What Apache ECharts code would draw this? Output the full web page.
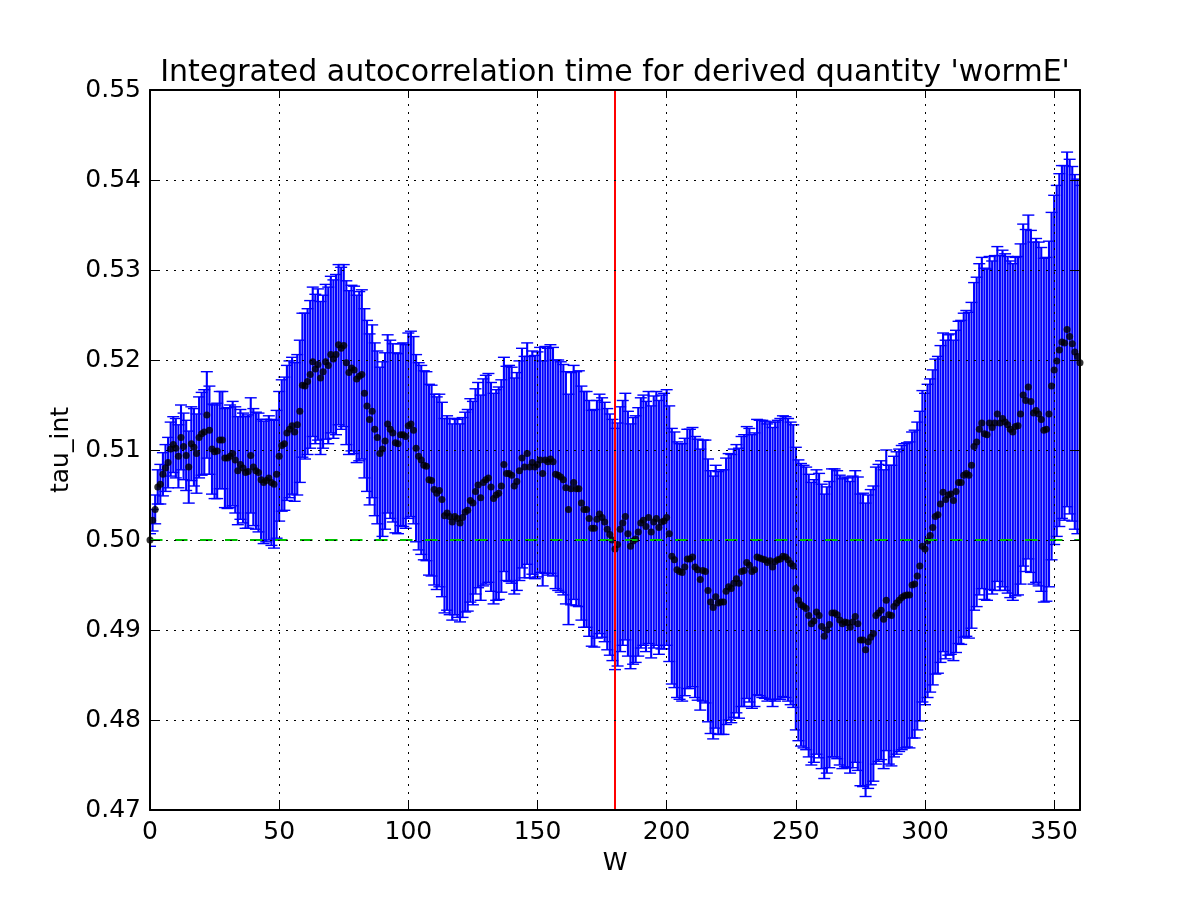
<!DOCTYPE html>
<html>
<head>
<meta charset="utf-8">
<script src="https://cdn.jsdelivr.net/npm/echarts@6/dist/echarts.min.js"></script>
<style>
  html, body { margin: 0; padding: 0; background: #fff; }
  #chart { width: 1200px; height: 900px; }
</style>
</head>
<body>
<div id="chart"></div>
<script>
// integrated autocorrelation time of 'wormE', one point per window W = 0..360
const tauInt = [
  0.5000, 0.5022, 0.5034, 0.5059, 0.5062, 0.5073, 0.5080, 0.5086, 0.5101, 0.5106,
  0.5102, 0.5093, 0.5114, 0.5104, 0.5094, 0.5081, 0.5107, 0.5103, 0.5096, 0.5114,
  0.5118, 0.5120, 0.5139, 0.5122, 0.5101, 0.5098, 0.5099, 0.5111, 0.5111, 0.5091,
  0.5091, 0.5093, 0.5096, 0.5089, 0.5077, 0.5084, 0.5080, 0.5075, 0.5076, 0.5094,
  0.5081, 0.5077, 0.5075, 0.5067, 0.5064, 0.5066, 0.5069, 0.5064, 0.5062, 0.5073,
  0.5093, 0.5105, 0.5107, 0.5119, 0.5123, 0.5127, 0.5120, 0.5128, 0.5143, 0.5172,
  0.5171, 0.5176, 0.5184, 0.5198, 0.5190, 0.5195, 0.5180, 0.5187, 0.5198, 0.5194,
  0.5206, 0.5201, 0.5206, 0.5217, 0.5213, 0.5216, 0.5197, 0.5186, 0.5191, 0.5189,
  0.5179, 0.5182, 0.5184, 0.5163, 0.5149, 0.5134, 0.5143, 0.5123, 0.5114, 0.5096,
  0.5101, 0.5110, 0.5129, 0.5123, 0.5119, 0.5108, 0.5107, 0.5117, 0.5117, 0.5115,
  0.5127, 0.5129, 0.5122, 0.5102, 0.5093, 0.5089, 0.5083, 0.5082, 0.5067, 0.5066,
  0.5056, 0.5052, 0.5055, 0.5045, 0.5027, 0.5030, 0.5026, 0.5020, 0.5026, 0.5024,
  0.5019, 0.5025, 0.5031, 0.5033, 0.5044, 0.5041, 0.5054, 0.5061, 0.5047, 0.5064,
  0.5067, 0.5069, 0.5059, 0.5046, 0.5050, 0.5052, 0.5060, 0.5084, 0.5074, 0.5074,
  0.5072, 0.5060, 0.5065, 0.5077, 0.5091, 0.5081, 0.5096, 0.5081, 0.5086, 0.5081,
  0.5084, 0.5089, 0.5074, 0.5089, 0.5087, 0.5090, 0.5087, 0.5073, 0.5072, 0.5070,
  0.5067, 0.5058, 0.5034, 0.5057, 0.5064, 0.5057, 0.5057, 0.5041, 0.5034, 0.5034,
  0.5024, 0.5013, 0.5013, 0.5023, 0.5029, 0.5025, 0.5020, 0.5012, 0.5006, 0.5000,
  0.4990, 0.4995, 0.5012, 0.5019, 0.5026, 0.5007, 0.4993, 0.4999, 0.5001, 0.5009,
  0.5019, 0.5022, 0.5015, 0.5025, 0.5009, 0.5020, 0.5024, 0.5014, 0.5020, 0.5021,
  0.5025, 0.5007, 0.4982, 0.4978, 0.4967, 0.4965, 0.4964, 0.4970, 0.4979, 0.4979,
  0.4981, 0.4970, 0.4967, 0.4956, 0.4966, 0.4965, 0.4944, 0.4931, 0.4925, 0.4937,
  0.4930, 0.4931, 0.4931, 0.4943, 0.4948, 0.4946, 0.4952, 0.4957, 0.4952, 0.4965,
  0.4966, 0.4975, 0.4972, 0.4965, 0.4967, 0.4981, 0.4980, 0.4979, 0.4978, 0.4975,
  0.4977, 0.4970, 0.4976, 0.4978, 0.4979, 0.4982, 0.4981, 0.4978, 0.4974, 0.4971,
  0.4946, 0.4933, 0.4928, 0.4926, 0.4924, 0.4916, 0.4907, 0.4910, 0.4920, 0.4916,
  0.4904, 0.4893, 0.4900, 0.4906, 0.4919, 0.4919, 0.4917, 0.4911, 0.4907, 0.4909,
  0.4908, 0.4903, 0.4909, 0.4915, 0.4907, 0.4889, 0.4889, 0.4878, 0.4887, 0.4892,
  0.4896, 0.4916, 0.4919, 0.4922, 0.4912, 0.4933, 0.4917, 0.4916, 0.4926, 0.4930,
  0.4933, 0.4936, 0.4938, 0.4939, 0.4939, 0.4950, 0.4951, 0.4960, 0.4971, 0.4993,
  0.4990, 0.4999, 0.5005, 0.5014, 0.5026, 0.5028, 0.5040, 0.5053, 0.5045, 0.5050,
  0.5051, 0.5044, 0.5054, 0.5064, 0.5064, 0.5072, 0.5074, 0.5072, 0.5083, 0.5104,
  0.5109, 0.5123, 0.5130, 0.5118, 0.5117, 0.5130, 0.5125, 0.5130, 0.5140, 0.5130,
  0.5135, 0.5131, 0.5128, 0.5123, 0.5120, 0.5126, 0.5127, 0.5140, 0.5161, 0.5155,
  0.5170, 0.5154, 0.5141, 0.5144, 0.5140, 0.5134, 0.5122, 0.5123, 0.5140, 0.5171,
  0.5189, 0.5199, 0.5211, 0.5220, 0.5219, 0.5234, 0.5226, 0.5218, 0.5209, 0.5204,
  0.5197
];

// half-length of each error bar
const tauErr = [
  0.0007, 0.0012, 0.0016, 0.0019, 0.0022, 0.0024, 0.0026, 0.0028, 0.0030, 0.0031,
  0.0033, 0.0035, 0.0036, 0.0037, 0.0039, 0.0040, 0.0041, 0.0043, 0.0044, 0.0045,
  0.0046, 0.0047, 0.0048, 0.0049, 0.0050, 0.0052, 0.0053, 0.0054, 0.0054, 0.0055,
  0.0056, 0.0057, 0.0058, 0.0059, 0.0060, 0.0061, 0.0061, 0.0062, 0.0063, 0.0064,
  0.0065, 0.0065, 0.0066, 0.0067, 0.0068, 0.0068, 0.0069, 0.0070, 0.0071, 0.0071,
  0.0072, 0.0073, 0.0074, 0.0075, 0.0076, 0.0076, 0.0077, 0.0078, 0.0079, 0.0080,
  0.0081, 0.0081, 0.0082, 0.0083, 0.0083, 0.0084, 0.0085, 0.0085, 0.0086, 0.0087,
  0.0087, 0.0088, 0.0089, 0.0089, 0.0090, 0.0090, 0.0091, 0.0091, 0.0092, 0.0093,
  0.0093, 0.0094, 0.0094, 0.0094, 0.0095, 0.0095, 0.0096, 0.0096, 0.0096, 0.0096,
  0.0097, 0.0098, 0.0099, 0.0099, 0.0099, 0.0100, 0.0100, 0.0101, 0.0102, 0.0102,
  0.0103, 0.0103, 0.0104, 0.0104, 0.0104, 0.0105, 0.0105, 0.0105, 0.0106, 0.0106,
  0.0106, 0.0107, 0.0107, 0.0108, 0.0108, 0.0108, 0.0109, 0.0109, 0.0109, 0.0110,
  0.0110, 0.0111, 0.0111, 0.0112, 0.0113, 0.0113, 0.0114, 0.0114, 0.0114, 0.0115,
  0.0116, 0.0116, 0.0116, 0.0117, 0.0117, 0.0118, 0.0118, 0.0119, 0.0119, 0.0120,
  0.0120, 0.0120, 0.0121, 0.0122, 0.0122, 0.0123, 0.0123, 0.0123, 0.0124, 0.0124,
  0.0125, 0.0125, 0.0125, 0.0126, 0.0126, 0.0127, 0.0127, 0.0127, 0.0128, 0.0128,
  0.0128, 0.0129, 0.0128, 0.0129, 0.0130, 0.0130, 0.0131, 0.0130, 0.0131, 0.0131,
  0.0131, 0.0131, 0.0132, 0.0132, 0.0133, 0.0133, 0.0133, 0.0134, 0.0134, 0.0134,
  0.0134, 0.0135, 0.0136, 0.0136, 0.0137, 0.0136, 0.0136, 0.0137, 0.0137, 0.0138,
  0.0139, 0.0139, 0.0139, 0.0140, 0.0140, 0.0140, 0.0141, 0.0141, 0.0141, 0.0142,
  0.0142, 0.0142, 0.0142, 0.0142, 0.0142, 0.0142, 0.0143, 0.0143, 0.0144, 0.0144,
  0.0144, 0.0145, 0.0145, 0.0145, 0.0145, 0.0146, 0.0146, 0.0146, 0.0146, 0.0146,
  0.0146, 0.0147, 0.0147, 0.0148, 0.0148, 0.0149, 0.0149, 0.0149, 0.0150, 0.0150,
  0.0151, 0.0151, 0.0152, 0.0152, 0.0152, 0.0153, 0.0153, 0.0154, 0.0154, 0.0154,
  0.0154, 0.0155, 0.0155, 0.0155, 0.0156, 0.0156, 0.0156, 0.0157, 0.0157, 0.0157,
  0.0157, 0.0156, 0.0157, 0.0157, 0.0157, 0.0157, 0.0157, 0.0157, 0.0158, 0.0158,
  0.0158, 0.0158, 0.0159, 0.0159, 0.0160, 0.0160, 0.0160, 0.0161, 0.0161, 0.0161,
  0.0161, 0.0162, 0.0162, 0.0162, 0.0163, 0.0162, 0.0163, 0.0163, 0.0163, 0.0164,
  0.0164, 0.0165, 0.0165, 0.0166, 0.0166, 0.0167, 0.0166, 0.0167, 0.0167, 0.0168,
  0.0168, 0.0169, 0.0169, 0.0169, 0.0170, 0.0170, 0.0171, 0.0171, 0.0172, 0.0173,
  0.0173, 0.0174, 0.0174, 0.0175, 0.0175, 0.0176, 0.0176, 0.0177, 0.0177, 0.0178,
  0.0178, 0.0178, 0.0179, 0.0179, 0.0180, 0.0180, 0.0181, 0.0181, 0.0181, 0.0182,
  0.0183, 0.0184, 0.0184, 0.0184, 0.0184, 0.0185, 0.0185, 0.0186, 0.0186, 0.0186,
  0.0187, 0.0187, 0.0187, 0.0187, 0.0187, 0.0188, 0.0188, 0.0189, 0.0190, 0.0190,
  0.0191, 0.0190, 0.0190, 0.0191, 0.0191, 0.0191, 0.0191, 0.0191, 0.0192, 0.0193,
  0.0194, 0.0195, 0.0196, 0.0196, 0.0197, 0.0197, 0.0197, 0.0197, 0.0197, 0.0197,
  0.0197
];

const xTicks = [0, 50, 100, 150, 200, 250, 300, 350];
const yTicks = [0.47, 0.48, 0.49, 0.50, 0.51, 0.52, 0.53, 0.54, 0.55];
const wMax = 360;
const refTau = 0.5;   // green dashed line
const cutW = 180;     // red vertical line

const windows = tauInt.map((_, i) => i);
const points = windows.map(w => [w, tauInt[w]]);
const bars = windows.map(w => [w, tauInt[w] - tauErr[w], tauInt[w] + tauErr[w]]);

const font = 'DejaVu Sans';
const capHalf = 6;

function renderErrorBar(params, api) {
  const lo = api.coord([api.value(0), api.value(1)]);
  const hi = api.coord([api.value(0), api.value(2)]);
  const stroke = '#0000ff';
  return {
    type: 'group',
    children: [
      { type: 'line', shape: { x1: hi[0], y1: hi[1], x2: lo[0], y2: lo[1] },
        style: { stroke: stroke, lineWidth: 2.1 } },
      { type: 'line', shape: { x1: hi[0] - capHalf, y1: hi[1], x2: hi[0] + capHalf, y2: hi[1] },
        style: { stroke: stroke, lineWidth: 1.4 } },
      { type: 'line', shape: { x1: lo[0] - capHalf, y1: lo[1], x2: lo[0] + capHalf, y2: lo[1] },
        style: { stroke: stroke, lineWidth: 1.4 } }
    ]
  };
}

const gridStyle = { color: '#000', width: 1, type: [2, 6] };
const gridLines = []
  .concat(yTicks.slice(1, -1).map(v => ({ yAxis: v, lineStyle: gridStyle })))
  .concat(xTicks.slice(1).map(v => ({ xAxis: v, lineStyle: gridStyle })));

const axisCommon = {
  axisLine: { show: true, onZero: false, lineStyle: { color: '#000', width: 2 } },
  axisTick: { show: true, inside: true, length: 8, lineStyle: { color: '#000', width: 1 } },
  splitLine: { show: false },
  z: 10
};

const chart = echarts.init(document.getElementById('chart'), null, { renderer: 'canvas' });

chart.setOption({
  animation: false,
  backgroundColor: '#fff',
  textStyle: { fontFamily: font },
  title: {
    text: "Integrated autocorrelation time for derived quantity 'wormE'",
    left: 610,
    textAlign: 'center',
    top: 53,
    textStyle: { fontFamily: font, fontSize: 30, fontWeight: 'normal', color: '#000' }
  },
  grid: { left: 150, right: 120, top: 90, bottom: 90 },
  xAxis: [
    Object.assign({}, axisCommon, {
      type: 'value', min: 0, max: wMax, interval: 50,
      name: 'W', nameLocation: 'middle', nameGap: 41,
      nameTextStyle: { fontFamily: font, fontSize: 25, color: '#000' },
      axisLabel: { show: true, margin: 10, showMaxLabel: false,
        fontFamily: font, fontSize: 25, color: '#000' }
    }),
    Object.assign({}, axisCommon, {
      type: 'value', min: 0, max: wMax, interval: 50, position: 'top',
      axisLabel: { show: false }
    })
  ],
  yAxis: [
    Object.assign({}, axisCommon, {
      type: 'value', min: 0.47, max: 0.55, interval: 0.01,
      name: 'tau_int', nameLocation: 'middle', nameGap: 72,
      nameTextStyle: { fontFamily: font, fontSize: 25, color: '#000' },
      axisLabel: { show: true, margin: 9, fontFamily: font, fontSize: 25, color: '#000',
        formatter: v => v.toFixed(2) }
    }),
    Object.assign({}, axisCommon, {
      type: 'value', min: 0.47, max: 0.55, interval: 0.01, position: 'right',
      axisLabel: { show: false }
    })
  ],
  series: [
    {
      type: 'custom',
      name: 'error',
      renderItem: renderErrorBar,
      encode: { x: 0, y: [1, 2] },
      data: bars,
      clip: true,
      silent: true,
      z: 2
    },
    {
      type: 'scatter',
      name: 'tau_int',
      data: points,
      symbol: 'circle',
      symbolSize: 7,
      itemStyle: { color: '#000' },
      clip: true,
      silent: true,
      z: 3
    },
    {
      type: 'line',
      name: 'markers',
      data: [],
      z: 4,
      markLine: {
        silent: true,
        symbol: ['none', 'none'],
        label: { show: false },
        animation: false,
        data: [
          { yAxis: refTau, lineStyle: { color: '#00c000', width: 2, type: [12.5, 12.5] } },
          { xAxis: cutW, lineStyle: { color: '#ff0000', width: 2, type: 'solid' } }
        ]
      }
    },
    {
      type: 'line',
      name: 'grid',
      data: [],
      z: 6,
      markLine: {
        silent: true,
        symbol: ['none', 'none'],
        label: { show: false },
        animation: false,
        data: gridLines
      }
    }
  ]
});
</script>
</body>
</html>
